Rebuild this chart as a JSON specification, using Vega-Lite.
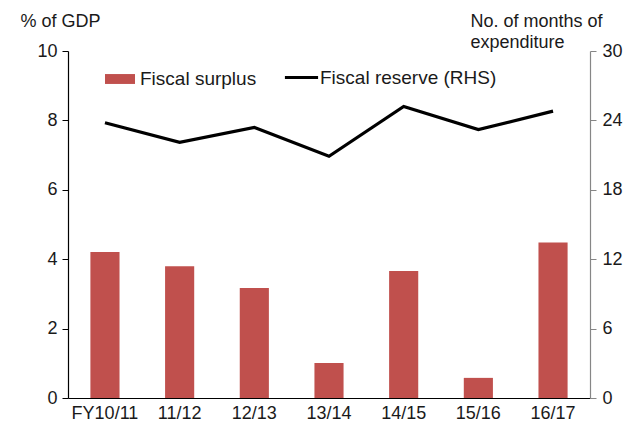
{
  "$schema": "https://vega.github.io/schema/vega-lite/v6.json",
  "autosize": "none",
  "width": 522,
  "height": 347,
  "padding": {"left": 68, "top": 51, "right": 53, "bottom": 26},
  "background": "white",
  "config": {
    "font": "Liberation Sans",
    "view": {"stroke": null},
    "axis": {"labelFont": "Liberation Sans", "labelFontSize": 18, "labelColor": "#1a1a1a", "titleFont": "Liberation Sans", "titleFontSize": 18, "titleFontWeight": "normal", "titleColor": "#1a1a1a", "grid": false},
    "legend": {"labelFont": "Liberation Sans", "labelFontSize": 19, "labelColor": "#1a1a1a", "labelLimit": 0}
  },
  "data": {
    "values": [
      {"year": "FY10/11", "surplus": 4.21, "reserve": 23.8, "s1": "Fiscal surplus", "s2": "Fiscal reserve (RHS)"},
      {"year": "11/12", "surplus": 3.8, "reserve": 22.1, "s1": "Fiscal surplus", "s2": "Fiscal reserve (RHS)"},
      {"year": "12/13", "surplus": 3.17, "reserve": 23.4, "s1": "Fiscal surplus", "s2": "Fiscal reserve (RHS)"},
      {"year": "13/14", "surplus": 1.01, "reserve": 20.9, "s1": "Fiscal surplus", "s2": "Fiscal reserve (RHS)"},
      {"year": "14/15", "surplus": 3.66, "reserve": 25.2, "s1": "Fiscal surplus", "s2": "Fiscal reserve (RHS)"},
      {"year": "15/16", "surplus": 0.58, "reserve": 23.2, "s1": "Fiscal surplus", "s2": "Fiscal reserve (RHS)"},
      {"year": "16/17", "surplus": 4.48, "reserve": 24.8, "s1": "Fiscal surplus", "s2": "Fiscal reserve (RHS)"}
    ]
  },
  "encoding": {
    "x": {
      "field": "year", "type": "nominal", "sort": null,
      "scale": {"paddingInner": 0.61, "paddingOuter": 0.3},
      "axis": {"title": null, "labelAngle": 0, "ticks": false, "domainColor": "#000000", "domainWidth": 1.2, "labelPadding": 6}
    }
  },
  "layer": [
    {
      "mark": {"type": "bar", "color": "#c0504d"},
      "encoding": {
        "y": {
          "field": "surplus", "type": "quantitative",
          "scale": {"domain": [0, 10], "nice": false},
          "axis": {"values": [0, 2, 4, 6, 8, 10], "title": "% of GDP", "titleAngle": 0, "titleAlign": "left", "titleBaseline": "alphabetic", "titleX": -48, "titleY": -25, "domainColor": "#000000", "domainWidth": 1.2, "tickColor": "#000000", "tickSize": 6, "labelPadding": 5}
        },
        "fill": {
          "field": "s1", "type": "nominal",
          "scale": {"range": ["#c0504d"]},
          "legend": {"title": null, "orient": "none", "legendX": 37, "legendY": 13, "symbolType": "M-1,-0.33H1V0.33H-1Z", "symbolSize": 900, "symbolStrokeWidth": 0, "labelOffset": 5, "padding": 0}
        }
      }
    },
    {
      "mark": {"type": "line", "color": "#000000", "strokeWidth": 3.2},
      "encoding": {
        "y": {
          "field": "reserve", "type": "quantitative",
          "scale": {"domain": [0, 30], "nice": false},
          "axis": {"orient": "right", "values": [0, 6, 12, 18, 24, 30], "title": ["No. of months of", "expenditure"], "titleAngle": 0, "titleAlign": "left", "titleBaseline": "alphabetic", "titleX": -120, "titleY": -25, "titleLineHeight": 21, "domainColor": "#868686", "domainWidth": 1.2, "tickColor": "#868686", "tickSize": 6, "labelPadding": 6}
        },
        "stroke": {
          "field": "s2", "type": "nominal",
          "scale": {"range": ["#000000"]},
          "legend": {"title": null, "orient": "none", "legendX": 215, "legendY": 8, "symbolType": "stroke", "symbolSize": 1100, "symbolStrokeWidth": 3.2, "labelOffset": 0, "padding": 0}
        }
      }
    }
  ],
  "resolve": {"scale": {"y": "independent", "fill": "independent", "stroke": "independent"}}
}
